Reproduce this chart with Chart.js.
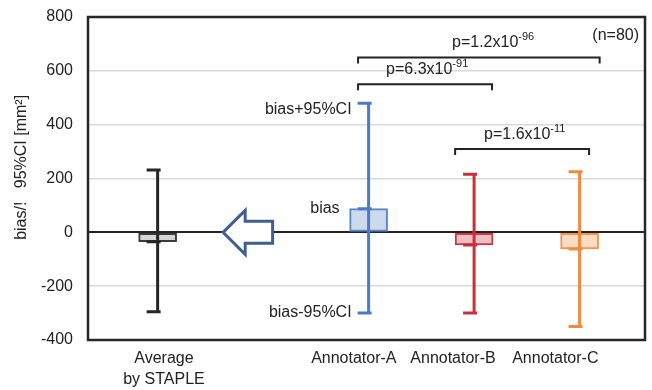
<!DOCTYPE html>
<html>
<head>
<meta charset="utf-8">
<script src="https://cdn.jsdelivr.net/npm/chart.js@4.4.1/dist/chart.umd.min.js"></script>
<style>
  html, body { margin: 0; background: #fff; }
</style>
</head>
<body>
<canvas id="chart" width="652" height="390"></canvas>
<script>
// categories sit on a linear x axis, slot 1 is left empty for the arrow
const catPos = [0, 2, 3, 4];
const labelPos = [0.06, 1.86, 2.8, 3.77]; // the category texts are not centred on the bars
const catLabels = [['Average', 'by STAPLE'], 'Annotator-A', 'Annotator-B', 'Annotator-C'];
const biasValues = [-35, 88, -47, -62];
const upperCI = [232, 480, 216, 225];
const lowerCI = [-295, -300, -300, -350];
const yTicks = [-400, -200, 0, 200, 400, 600, 800];

// significance brackets
const pLabels = ['p=1.2x10', 'p=6.3x10', 'p=1.6x10'];
const pExponents = ['-96', '-91', '-11'];
const pFrom = [1.9, 1.9, 2.82];
const pTo = [4.19, 3.17, 4.09];
const pLevel = [650, 550, 310];
const pTextX = [3.18, 2.555, 3.48];

const lineColors = ['#262626', '#4a7bc4', '#c9303b', '#ef8a3e'];
const fillColors = ['#d4d4d4', '#cddaed', '#eebfc3', '#fddcc3'];
const borderColors = ['#3a3a3a', '#5b86c9', '#cc3a44', '#f29450'];

const FONT = '"Liberation Sans", Arial, sans-serif';
Chart.defaults.font.family = FONT;
Chart.defaults.color = '#222';

const extras = {
  id: 'extras',
  beforeDatasetsDraw(chart) {
    const { ctx, chartArea: a } = chart;
    ctx.save();
    ctx.strokeStyle = '#262626';
    ctx.lineWidth = 2.5;
    ctx.strokeRect(a.left, a.top, a.right - a.left, a.bottom - a.top);
    ctx.restore();
  },
  afterDatasetsDraw(chart) {
    const { ctx } = chart;
    const xs = chart.scales.x, ys = chart.scales.y;
    ctx.save();

    // error bars
    ctx.lineWidth = 3;
    catPos.forEach((p, i) => {
      const x = xs.getPixelForValue(p);
      const yu = ys.getPixelForValue(upperCI[i]);
      const yl = ys.getPixelForValue(lowerCI[i]);
      const yb = ys.getPixelForValue(biasValues[i]);
      ctx.strokeStyle = lineColors[i];
      ctx.beginPath();
      ctx.moveTo(x, yu); ctx.lineTo(x, yl);
      [yu, yl, yb].forEach(y => { ctx.moveTo(x - 11, y); ctx.lineTo(x + 3, y); });
      ctx.stroke();
    });

    // hollow arrow pointing left
    const yc = ys.getPixelForValue(0);
    const tip = xs.getPixelForValue(0.62);
    const neck = xs.getPixelForValue(0.83);
    const tail = xs.getPixelForValue(1.09);
    ctx.beginPath();
    ctx.moveTo(tip, yc);
    ctx.lineTo(neck, yc - 22);
    ctx.lineTo(neck, yc - 11);
    ctx.lineTo(tail, yc - 11);
    ctx.lineTo(tail, yc + 11);
    ctx.lineTo(neck, yc + 11);
    ctx.lineTo(neck, yc + 22);
    ctx.closePath();
    ctx.fillStyle = '#fff';
    ctx.fill();
    ctx.strokeStyle = '#3f5f8e';
    ctx.lineWidth = 3;
    ctx.stroke();

    // brackets with p-values
    ctx.strokeStyle = '#222';
    ctx.fillStyle = '#222';
    ctx.lineWidth = 2;
    pLabels.forEach((t, i) => {
      const x1 = xs.getPixelForValue(pFrom[i]);
      const x2 = xs.getPixelForValue(pTo[i]);
      const y = ys.getPixelForValue(pLevel[i]);
      ctx.beginPath();
      ctx.moveTo(x1, y + 6); ctx.lineTo(x1, y); ctx.lineTo(x2, y); ctx.lineTo(x2, y + 6);
      ctx.stroke();
      ctx.font = '16px ' + FONT;
      const w1 = ctx.measureText(t).width;
      ctx.font = '11px ' + FONT;
      const w2 = ctx.measureText(pExponents[i]).width;
      const cx = xs.getPixelForValue(pTextX[i]);
      const left = cx - (w1 + w2) / 2;
      ctx.textAlign = 'left';
      ctx.textBaseline = 'alphabetic';
      ctx.font = '16px ' + FONT;
      ctx.fillText(t, left, y - 10);
      ctx.font = '11px ' + FONT;
      ctx.fillText(pExponents[i], left + w1, y - 17);
    });

    ctx.font = '16px ' + FONT;
    ctx.textAlign = 'right';
    ctx.textBaseline = 'middle';
    ctx.fillText('(n=80)', chart.chartArea.right - 6, ys.getPixelForValue(800) + 19);

    // labels explaining the Annotator-A marks
    const ax = xs.getPixelForValue(catPos[1]);
    ctx.fillText('bias+95%CI', ax - 17, ys.getPixelForValue(upperCI[1]) + 6);
    ctx.fillText('bias', ax - 29, ys.getPixelForValue(biasValues[1]));
    ctx.fillText('bias-95%CI', ax - 17, ys.getPixelForValue(lowerCI[1]));
    ctx.restore();
  }
};

new Chart(document.getElementById('chart'), {
  type: 'bar',
  data: {
    datasets: [{
      data: catPos.map((x, i) => ({ x: x, y: [0, biasValues[i]] })),
      backgroundColor: fillColors,
      borderColor: borderColors,
      borderWidth: 2,
      borderSkipped: false,
      barThickness: 38
    }]
  },
  options: {
    responsive: false,
    animation: false,
    devicePixelRatio: 1,
    layout: { padding: { top: 17, right: 7, left: 0, bottom: 0 } },
    plugins: { legend: { display: false }, tooltip: { enabled: false } },
    scales: {
      x: {
        type: 'linear',
        offset: false,
        min: -0.66,
        max: 4.62,
        grid: { display: false, offset: false },
        border: { display: false },
        afterBuildTicks: s => { s.ticks = labelPos.map(v => ({ value: v })); },
        afterFit: s => { s.height = 50; s.paddingLeft = 0; s.paddingRight = 0; },
        ticks: {
          autoSkip: false,
          maxRotation: 0,
          padding: 0,
          font: { size: 16, lineHeight: 1.3 },
          color: '#222',
          callback: v => catLabels[labelPos.indexOf(v)]
        }
      },
      y: {
        min: -400,
        max: 800,
        afterBuildTicks: s => { s.ticks = yTicks.map(v => ({ value: v })); },
        afterFit: s => { s.width = 88; s.paddingTop = 0; s.paddingBottom = 0; },
        border: { display: false },
        grid: {
          drawTicks: false,
          color: c => c.tick.value === 0 ? '#222' : '#d9d9d9',
          lineWidth: c => c.tick.value === 0 ? 2 : 1.5
        },
        ticks: { padding: 15, font: { size: 16 }, color: '#222' },
        title: {
          display: true,
          text: '\u00a0\u00a0\u00a0\u00a0\u00a0bias/!\u00a0\u00a0 95%CI [mm\u00b2]',
          font: { size: 16 },
          color: '#222',
          padding: { top: 12, bottom: 0 }
        }
      }
    }
  },
  plugins: [extras]
});
</script>
</body>
</html>
